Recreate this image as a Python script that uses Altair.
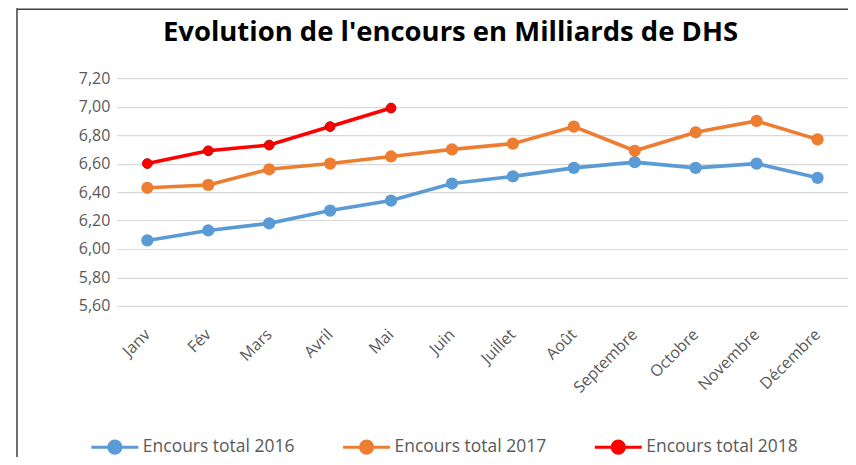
import altair as alt
import pandas as pd

months = ["Janv", "Fév", "Mars", "Avril", "Mai", "Juin", "Juillet", "Août",
          "Septembre", "Octobre", "Novembre", "Décembre"]
series_names = ["Encours total 2016", "Encours total 2017", "Encours total 2018"]
v2016 = [6.06, 6.13, 6.18, 6.27, 6.34, 6.46, 6.51, 6.57, 6.61, 6.57, 6.60, 6.50]
v2017 = [6.43, 6.45, 6.56, 6.60, 6.65, 6.70, 6.74, 6.86, 6.69, 6.82, 6.90, 6.77]
v2018 = [6.60, 6.69, 6.73, 6.86, 6.99]
colors = ["#5B9BD5", "#ED7D31", "#FF0000"]
y_ticks = [5.6, 5.8, 6.0, 6.2, 6.4, 6.6, 6.8, 7.0, 7.2]

rows = []
for name, vals in zip(series_names, [v2016, v2017, v2018]):
    for m, v in zip(months, vals):
        rows.append({"Mois": m, "Série": name, "Valeur": v})
df = pd.DataFrame(rows)

FONT = "Open Sans"
GRAY = "#595959"

legend_path = ("M-1,0L1,0M-0.26,0A0.26,0.26 0 1,1 0.26,0"
               "A0.26,0.26 0 1,1 -0.26,0Z")

color = alt.Color(
    "Série:N",
    scale=alt.Scale(domain=series_names, range=colors),
    legend=alt.Legend(
        title=None, orient="none", direction="horizontal",
        legendX=-27, legendY=344,
        symbolType=legend_path, symbolSize=2209, symbolStrokeWidth=3,
        symbolOpacity=1,
        labelFont=FONT, labelFontSize=17.5, labelColor=GRAY,
        labelOffset=3, columnPadding=42,
    ),
)

x = alt.X("Mois:N", sort=months, scale=alt.Scale(paddingOuter=0.5),
          axis=alt.Axis(title=None, labelAngle=-45, labelFont=FONT,
                        labelFontSize=16, labelColor=GRAY, ticks=False,
                        domain=False, labelPadding=20, labelOffset=-6,
                        grid=False))
y = alt.Y("Valeur:Q", scale=alt.Scale(domain=[5.6, 7.2], nice=False, zero=False),
          axis=alt.Axis(title=None, values=y_ticks,
                        labelExpr="replace(format(datum.value, '.2f'), '.', ',')",
                        labelFont=FONT, labelFontSize=16, labelColor=GRAY,
                        ticks=False, domain=False, labelPadding=7,
                        grid=True, gridColor="#D9D9D9", gridWidth=1.2))

base = alt.Chart(df)
lines = base.mark_line(strokeWidth=3.6).encode(x=x, y=y, color=color)
points_a = base.transform_filter(
    alt.datum["Série"] != series_names[2]
).mark_point(filled=True, opacity=1, size=150).encode(x=x, y=y, color=color)
points_b = base.transform_filter(
    alt.datum["Série"] == series_names[2]
).mark_point(filled=True, opacity=1, size=95, stroke="#C00000",
             strokeWidth=1).encode(x=x, y=y, color=color)

frame_left = alt.Chart(pd.DataFrame({"k": [0]})).mark_rule(
    color="#404040", strokeWidth=1.5).encode(
    x=alt.value(-100), y=alt.value(-70), y2=alt.value(380))
frame_top = alt.Chart(pd.DataFrame({"k": [0]})).mark_rule(
    color="#404040", strokeWidth=1.5).encode(
    x=alt.value(-100), x2=alt.value(740), y=alt.value(-69))

chart = alt.layer(frame_left, frame_top, lines, points_a, points_b).properties(
    width=732, height=228,
    padding={"left": 109, "top": 70, "right": 0, "bottom": 151},
    autosize=alt.AutoSizeParams(type="none"),
    title=alt.TitleParams(
        "Evolution de l'encours en Milliards de DHS",
        font=FONT, fontSize=27.5, fontWeight="bold", color="#000000",
        anchor="middle", dx=-32, offset=-61, baseline="alphabetic"),
).configure_view(stroke=None)

chart.save("out.html", embed_options={"renderer": "svg", "actions": False})
